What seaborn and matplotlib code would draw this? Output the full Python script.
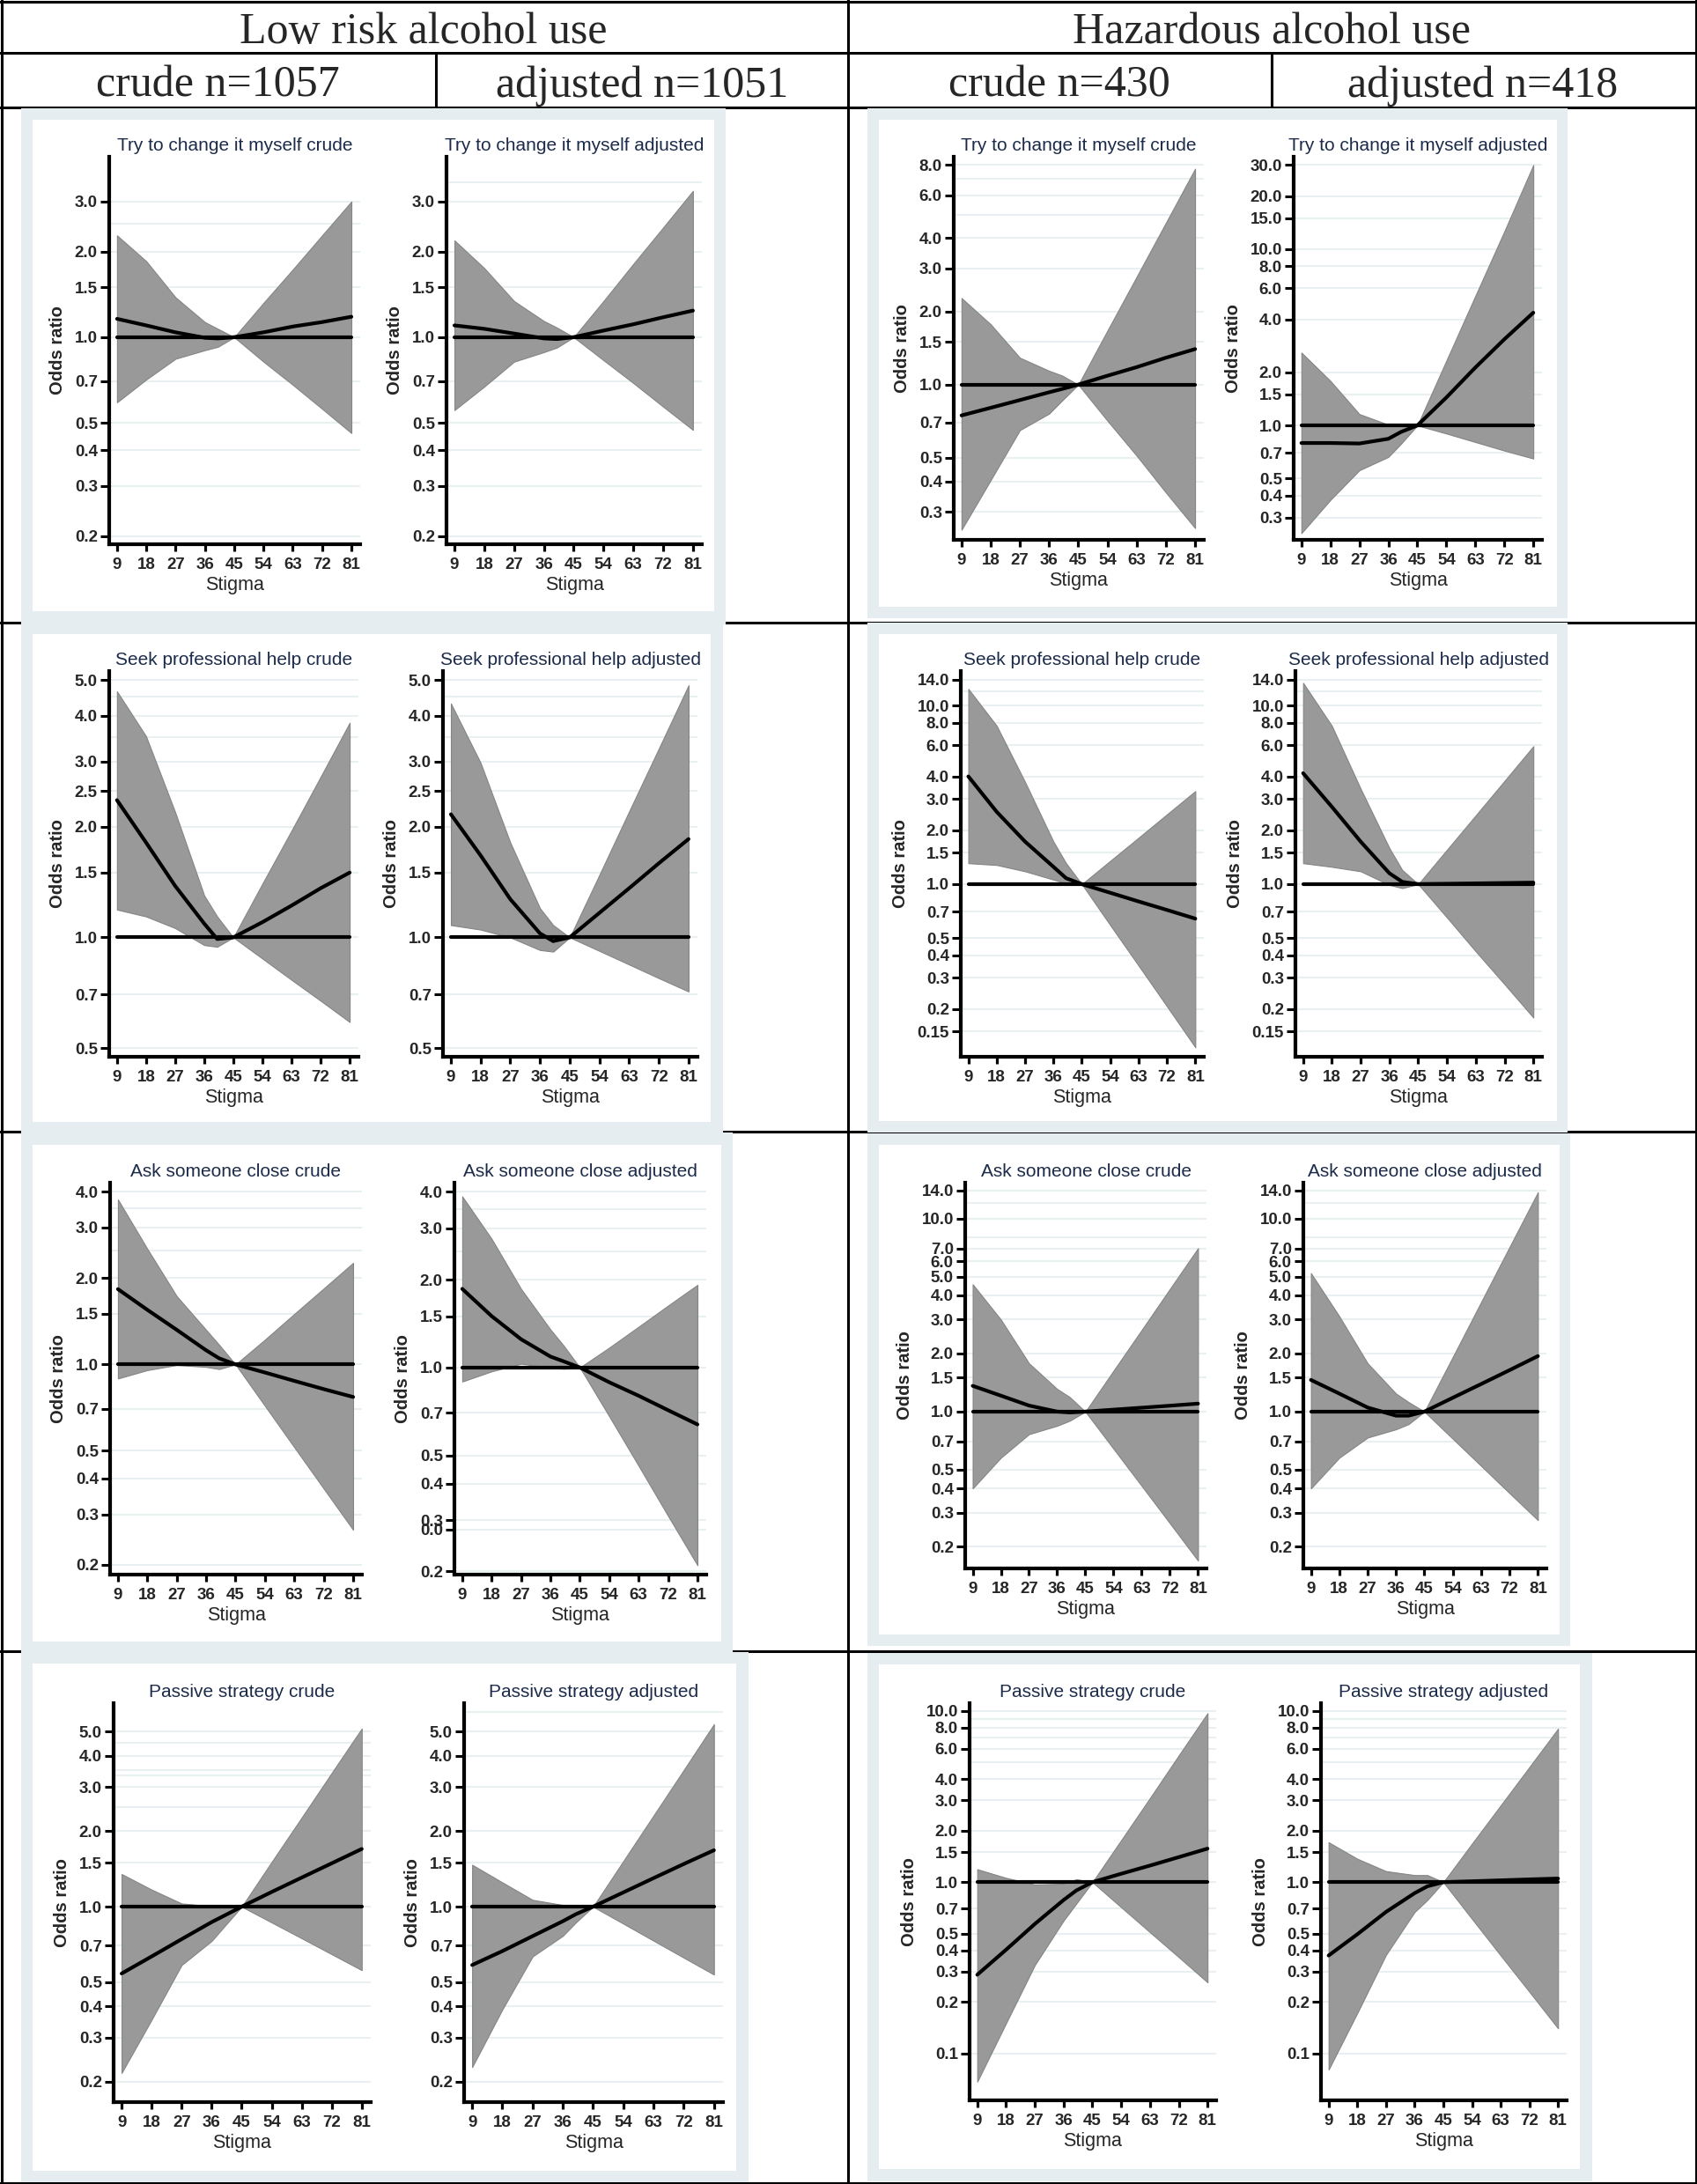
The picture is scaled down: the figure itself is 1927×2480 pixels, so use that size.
import matplotlib
matplotlib.use('Agg')
import matplotlib.pyplot as plt
import seaborn as sns
from matplotlib.lines import Line2D
from matplotlib.patches import Rectangle
from matplotlib.ticker import FixedLocator, NullFormatter

sns.set_theme(style='white')
plt.rcParams['font.family'] = ['Liberation Sans', 'DejaVu Sans']

W, H = 1927, 2480

# ---- data (odds ratio, lower / upper 95% CI) ----
stigma = [9, 18, 27, 36, 40, 45, 54, 63, 72, 81]
ref_x = [9, 81]
ref_or = [1.0, 1.0]

# Low risk alcohol use
low_try_crude_or = [1.16, 1.10, 1.04, 0.995, 0.99, 1.0, 1.04, 1.09, 1.13, 1.18]
low_try_crude_hi = [2.28, 1.85, 1.38, 1.13, 1.07, 1.0, 1.32, 1.73, 2.28, 3.0]
low_try_crude_lo = [0.59, 0.71, 0.84, 0.90, 0.925, 1.0, 0.82, 0.68, 0.56, 0.46]
low_try_adj_or = [1.10, 1.07, 1.03, 0.99, 0.985, 1.0, 1.055, 1.11, 1.175, 1.24]
low_try_adj_hi = [2.19, 1.75, 1.34, 1.14, 1.08, 1.0, 1.34, 1.81, 2.43, 3.27]
low_try_adj_lo = [0.554, 0.67, 0.82, 0.886, 0.92, 1.0, 0.83, 0.69, 0.57, 0.472]

low_seek_crude_or = [2.36, 1.81, 1.38, 1.09, 0.99, 1.0, 1.10, 1.22, 1.36, 1.50]
low_seek_crude_hi = [4.66, 3.52, 2.19, 1.30, 1.14, 1.0, 1.40, 1.95, 2.73, 3.83]
low_seek_crude_lo = [1.19, 1.14, 1.06, 0.953, 0.943, 1.0, 0.876, 0.767, 0.673, 0.589]
low_seek_adj_or = [2.16, 1.67, 1.27, 1.025, 0.977, 1.0, 1.166, 1.36, 1.59, 1.85]
low_seek_adj_hi = [4.32, 2.98, 1.81, 1.20, 1.08, 1.0, 1.48, 2.20, 3.26, 4.84]
low_seek_adj_lo = [1.08, 1.05, 1.0, 0.924, 0.915, 1.0, 0.919, 0.844, 0.775, 0.713]

low_ask_crude_or = [1.83, 1.55, 1.32, 1.12, 1.05, 1.0, 0.937, 0.876, 0.82, 0.77]
low_ask_crude_hi = [3.76, 2.53, 1.73, 1.32, 1.17, 1.0, 1.22, 1.50, 1.84, 2.26]
low_ask_crude_lo = [0.893, 0.955, 0.995, 0.98, 0.963, 1.0, 0.717, 0.514, 0.369, 0.265]
low_ask_adj_or = [1.86, 1.50, 1.25, 1.09, 1.05, 1.0, 0.89, 0.80, 0.714, 0.638]
low_ask_adj_hi = [3.86, 2.76, 1.86, 1.35, 1.19, 1.0, 1.17, 1.38, 1.63, 1.92]
low_ask_adj_lo = [0.895, 0.97, 1.03, 1.0, 0.99, 1.0, 0.68, 0.46, 0.31, 0.21]

low_pass_crude_or = [0.541, 0.633, 0.742, 0.868, 0.924, 1.0, 1.145, 1.307, 1.49, 1.70]
low_pass_crude_hi = [1.35, 1.17, 1.03, 1.005, 1.005, 1.0, 1.51, 2.27, 3.42, 5.14]
low_pass_crude_lo = [0.217, 0.354, 0.585, 0.73, 0.84, 1.0, 0.865, 0.748, 0.646, 0.558]
low_pass_adj_or = [0.585, 0.665, 0.763, 0.875, 0.935, 1.0, 1.14, 1.30, 1.48, 1.68]
low_pass_adj_hi = [1.47, 1.25, 1.065, 1.016, 1.01, 1.0, 1.52, 2.31, 3.51, 5.35]
low_pass_adj_lo = [0.229, 0.389, 0.633, 0.765, 0.868, 1.0, 0.856, 0.732, 0.626, 0.536]

# Hazardous alcohol use
haz_try_crude_or = [0.747, 0.803, 0.864, 0.93, 0.96, 1.0, 1.088, 1.18, 1.29, 1.40]
haz_try_crude_hi = [2.27, 1.77, 1.29, 1.14, 1.09, 1.0, 1.67, 2.78, 4.63, 7.72]
haz_try_crude_lo = [0.253, 0.405, 0.65, 0.76, 0.86, 1.0, 0.71, 0.51, 0.36, 0.257]
haz_try_adj_or = [0.795, 0.795, 0.79, 0.84, 0.92, 1.0, 1.44, 2.13, 3.08, 4.36]
haz_try_adj_hi = [2.59, 1.79, 1.16, 1.01, 1.0, 1.0, 2.33, 5.43, 12.6, 30.0]
haz_try_adj_lo = [0.245, 0.378, 0.557, 0.663, 0.79, 1.0, 0.90, 0.805, 0.72, 0.649]

haz_seek_crude_or = [4.01, 2.54, 1.73, 1.25, 1.08, 1.0, 0.895, 0.80, 0.717, 0.641]
haz_seek_crude_hi = [12.4, 7.7, 3.73, 1.73, 1.31, 1.0, 1.35, 1.82, 2.46, 3.32]
haz_seek_crude_lo = [1.31, 1.28, 1.18, 1.06, 1.01, 1.0, 0.59, 0.35, 0.207, 0.122]
haz_seek_adj_or = [4.18, 2.71, 1.73, 1.15, 1.03, 1.0, 1.005, 1.01, 1.015, 1.02]
haz_seek_adj_hi = [13.4, 7.7, 3.42, 1.59, 1.20, 1.0, 1.56, 2.43, 3.79, 5.92]
haz_seek_adj_lo = [1.31, 1.25, 1.18, 0.99, 0.95, 1.0, 0.65, 0.42, 0.275, 0.179]

haz_ask_crude_or = [1.36, 1.21, 1.075, 1.0, 0.99, 1.0, 1.024, 1.048, 1.073, 1.10]
haz_ask_crude_hi = [4.57, 3.0, 1.78, 1.31, 1.19, 1.0, 1.63, 2.65, 4.32, 7.03]
haz_ask_crude_lo = [0.40, 0.577, 0.764, 0.845, 0.897, 1.0, 0.642, 0.412, 0.264, 0.169]
haz_ask_adj_or = [1.46, 1.24, 1.05, 0.953, 0.953, 1.0, 1.18, 1.39, 1.64, 1.94]
haz_ask_adj_hi = [5.22, 3.12, 1.78, 1.24, 1.12, 1.0, 1.92, 3.70, 7.13, 13.7]
haz_ask_adj_lo = [0.40, 0.577, 0.734, 0.81, 0.862, 1.0, 0.723, 0.523, 0.378, 0.274]

haz_pass_crude_or = [0.288, 0.403, 0.57, 0.787, 0.895, 1.0, 1.12, 1.25, 1.40, 1.57]
haz_pass_crude_hi = [1.19, 1.06, 0.968, 0.98, 1.04, 1.0, 1.76, 3.10, 5.5, 9.7]
haz_pass_crude_lo = [0.0684, 0.15, 0.328, 0.597, 0.751, 1.0, 0.714, 0.51, 0.365, 0.26]
haz_pass_adj_or = [0.373, 0.496, 0.67, 0.863, 0.946, 1.0, 1.012, 1.025, 1.038, 1.05]
haz_pass_adj_hi = [1.71, 1.37, 1.16, 1.10, 1.10, 1.0, 1.68, 2.81, 4.70, 7.88]
haz_pass_adj_lo = [0.0804, 0.172, 0.376, 0.67, 0.787, 1.0, 0.61, 0.373, 0.229, 0.14]

# y tick values
ticks_low_try = [0.2, 0.3, 0.4, 0.5, 0.7, 1.0, 1.5, 2.0, 3.0]
ticks_haz_try_crude = [0.3, 0.4, 0.5, 0.7, 1.0, 1.5, 2.0, 3.0, 4.0, 6.0, 8.0]
ticks_haz_try_adj = [0.3, 0.4, 0.5, 0.7, 1.0, 1.5, 2.0, 4.0, 6.0, 8.0, 10.0, 15.0, 20.0, 30.0]
ticks_low_seek = [0.5, 0.7, 1.0, 1.5, 2.0, 2.5, 3.0, 4.0, 5.0]
ticks_haz_seek = [0.15, 0.2, 0.3, 0.4, 0.5, 0.7, 1.0, 1.5, 2.0, 3.0, 4.0, 6.0, 8.0, 10.0, 14.0]
ticks_low_ask = [0.2, 0.3, 0.4, 0.5, 0.7, 1.0, 1.5, 2.0, 3.0, 4.0]
ticks_low_ask_adj = [0.2, 0.278, 0.3, 0.4, 0.5, 0.7, 1.0, 1.5, 2.0, 3.0, 4.0]
labels_low_ask_adj = ['0.2', '0.0', '0.3', '0.4', '0.5', '0.7', '1.0', '1.5', '2.0', '3.0', '4.0']
ticks_haz_ask = [0.2, 0.3, 0.4, 0.5, 0.7, 1.0, 1.5, 2.0, 3.0, 4.0, 5.0, 6.0, 7.0, 10.0, 14.0]
ticks_low_pass = [0.2, 0.3, 0.4, 0.5, 0.7, 1.0, 1.5, 2.0, 3.0, 4.0, 5.0]
ticks_haz_pass = [0.1, 0.2, 0.3, 0.4, 0.5, 0.7, 1.0, 1.5, 2.0, 3.0, 4.0, 6.0, 8.0, 10.0]

fig = plt.figure(figsize=(W / 100, H / 100), dpi=100)


def fig_rect(x0, y0, x1, y1):
    return [x0 / W, 1 - y1 / H, (x1 - x0) / W, (y1 - y0) / H]


def box(x0, y0, x1, y1, color, z):
    fig.add_artist(Rectangle((x0 / W, 1 - y1 / H), (x1 - x0) / W, (y1 - y0) / H,
                             transform=fig.transFigure, facecolor=color,
                             edgecolor='none', zorder=z))


def hline(y, x0, x1):
    fig.add_artist(Line2D([x0 / W, x1 / W], [1 - y / H, 1 - y / H],
                          transform=fig.transFigure, color='black', lw=2.2, zorder=1))


def vline(x, y0, y1):
    fig.add_artist(Line2D([x / W, x / W], [1 - y0 / H, 1 - y1 / H],
                          transform=fig.transFigure, color='black', lw=2.2, zorder=1))


# table grid
for y in [1.5, 60, 122, 707, 1285, 1875, 2478.5]:
    hline(y, 0, W)
vline(1.5, 0, H)
vline(1925.5, 0, H)
vline(963, 0, H)
vline(495, 60, 122)
vline(1444, 60, 122)

hdr = dict(family=['Liberation Serif', 'DejaVu Serif'], fontsize=36, ha='center', va='baseline')
fig.text(481 / W, 1 - 49 / H, 'Low risk alcohol use', **hdr)
fig.text(1444 / W, 1 - 49 / H, 'Hazardous alcohol use', **hdr)
fig.text(247 / W, 1 - 110 / H, 'crude n=1057', **hdr)
fig.text(729 / W, 1 - 110 / H, 'adjusted n=1051', **hdr)
fig.text(1203 / W, 1 - 110 / H, 'crude n=430', **hdr)
fig.text(1684 / W, 1 - 110 / H, 'adjusted n=418', **hdr)

# panel frames (outer, inner)
FRAME = '#E6EDF0'
frames = [
    ((24, 123, 824, 709), (37, 136, 811, 694)),
    ((24, 706, 821, 1287), (37, 720, 807, 1274)),
    ((24, 1286, 832, 1877), (37, 1300, 819, 1864)),
    ((24, 1876, 850, 2478), (37, 1889, 836, 2465)),
    ((985, 123, 1780, 702), (998, 136, 1768, 689)),
    ((985, 707, 1780, 1286), (998, 720, 1768, 1273)),
    ((985, 1287, 1783, 1869), (998, 1300, 1771, 1856)),
    ((985, 1877, 1808, 2477), (998, 1890, 1794, 2463)),
]
for outer, inner in frames:
    box(*outer, FRAME, 2)
    box(*inner, 'white', 3)


def fmt(t):
    return '0.15' if t == 0.15 else f'{t:.1f}'


def draw(rect, title, or_, lo, hi, ylim, ticks, extras, labels=None):
    ax = fig.add_axes(fig_rect(*rect))
    ax.set_zorder(5)
    ax.set_facecolor('none')
    ax.set_yscale('log')
    ax.fill_between(stigma, lo, hi, facecolor='#999999', edgecolor='#858585',
                    lw=0.8, zorder=2)
    sns.lineplot(x=ref_x, y=ref_or, ax=ax, color='black', lw=3.0, zorder=3)
    sns.lineplot(x=stigma, y=or_, ax=ax, color='black', lw=3.0, zorder=4)
    ax.set_xlim(6.6, 83.7)
    ax.set_ylim(*ylim)
    xt = stigma[:4] + stigma[5:]
    ax.set_xticks(xt)
    ax.set_xticklabels([str(v) for v in xt], fontweight='bold')
    ax.set_yticks(ticks)
    ax.set_yticklabels(labels if labels else [fmt(t) for t in ticks], fontweight='bold')
    ax.yaxis.set_minor_locator(FixedLocator(extras))
    ax.yaxis.set_minor_formatter(NullFormatter())
    ax.grid(False)
    ax.grid(axis='y', which='both', color='#E9F0F1', lw=1.5)
    ax.set_axisbelow(True)
    for s in ['top', 'right']:
        ax.spines[s].set_visible(False)
    for s in ['left', 'bottom']:
        ax.spines[s].set_color('black')
        ax.spines[s].set_linewidth(3.0)
    ax.tick_params(axis='y', which='major', length=7.5, width=2.2, pad=2,
                   labelsize=13.5, color='black', left=True)
    ax.tick_params(axis='y', which='minor', length=0)
    ax.tick_params(axis='x', length=6, width=2.3, pad=5, labelsize=13.5,
                   color='black', bottom=True)
    ax.set_title(title, fontsize=15, color='#1c2b4a', pad=5)
    ax.set_ylabel('Odds ratio', fontsize=14.5, fontweight='bold', labelpad=7)
    ax.set_xlabel('Stigma', fontsize=15.5, labelpad=3)
    return ax


# row 1: try to change it myself
draw((124, 178, 409, 618), 'Try to change it myself crude',
     low_try_crude_or, low_try_crude_lo, low_try_crude_hi, (0.187, 4.31), ticks_low_try, [2.5])
draw((507, 178, 797, 618), 'Try to change it myself adjusted',
     low_try_adj_or, low_try_adj_lo, low_try_adj_hi, (0.187, 4.31), ticks_low_try, [3.5])
draw((1083, 178, 1367, 613), 'Try to change it myself crude',
     haz_try_crude_or, haz_try_crude_lo, haz_try_crude_hi, (0.23, 8.65), ticks_haz_try_crude, [5.0, 7.0])
draw((1469, 178, 1751, 613), 'Try to change it myself adjusted',
     haz_try_adj_or, haz_try_adj_lo, haz_try_adj_hi, (0.2245, 33.4), ticks_haz_try_adj, [])

# row 2: seek professional help
draw((124, 762, 407, 1200), 'Seek professional help crude',
     low_seek_crude_or, low_seek_crude_lo, low_seek_crude_hi, (0.474, 5.29), ticks_low_seek, [3.5, 4.5])
draw((503, 762, 792, 1200), 'Seek professional help adjusted',
     low_seek_adj_or, low_seek_adj_lo, low_seek_adj_hi, (0.474, 5.29), ticks_low_seek, [3.5, 4.5])
draw((1091, 762, 1367, 1200), 'Seek professional help crude',
     haz_seek_crude_or, haz_seek_crude_lo, haz_seek_crude_hi, (0.108, 15.6), ticks_haz_seek, [12.0])
draw((1471, 762, 1751, 1200), 'Seek professional help adjusted',
     haz_seek_adj_or, haz_seek_adj_lo, haz_seek_adj_hi, (0.108, 15.6), ticks_haz_seek, [12.0])

# row 3: ask someone close
draw((125, 1343, 411, 1788), 'Ask someone close crude',
     low_ask_crude_or, low_ask_crude_lo, low_ask_crude_hi, (0.185, 4.30), ticks_low_ask, [2.5, 3.5])
draw((516, 1343, 802, 1788), 'Ask someone close adjusted',
     low_ask_adj_or, low_ask_adj_lo, low_ask_adj_hi, (0.195, 4.30), ticks_low_ask_adj, [2.5, 3.5],
     labels_low_ask_adj)
draw((1096, 1343, 1370, 1781), 'Ask someone close crude',
     haz_ask_crude_or, haz_ask_crude_lo, haz_ask_crude_hi, (0.154, 15.35), ticks_haz_ask, [8.0, 12.0])
draw((1480, 1343, 1756, 1781), 'Ask someone close adjusted',
     haz_ask_adj_or, haz_ask_adj_lo, haz_ask_adj_hi, (0.154, 15.35), ticks_haz_ask, [8.0, 12.0])

# row 4: passive strategy
draw((129, 1934, 421, 2387), 'Passive strategy crude',
     low_pass_crude_or, low_pass_crude_lo, low_pass_crude_hi, (0.166, 6.49), ticks_low_pass,
     [2.5, 3.33, 3.5, 4.5])
draw((527, 1934, 821, 2387), 'Passive strategy adjusted',
     low_pass_adj_or, low_pass_adj_lo, low_pass_adj_hi, (0.166, 6.49), ticks_low_pass, [6.0])
draw((1101, 1934, 1381, 2385), 'Passive strategy crude',
     haz_pass_crude_or, haz_pass_crude_lo, haz_pass_crude_hi, (0.0532, 11.1), ticks_haz_pass,
     [5.0, 7.0, 9.0])
draw((1500, 1934, 1779, 2385), 'Passive strategy adjusted',
     haz_pass_adj_or, haz_pass_adj_lo, haz_pass_adj_hi, (0.0532, 11.1), ticks_haz_pass,
     [5.0, 7.0, 9.0])

fig.savefig('out.png', dpi=100)
